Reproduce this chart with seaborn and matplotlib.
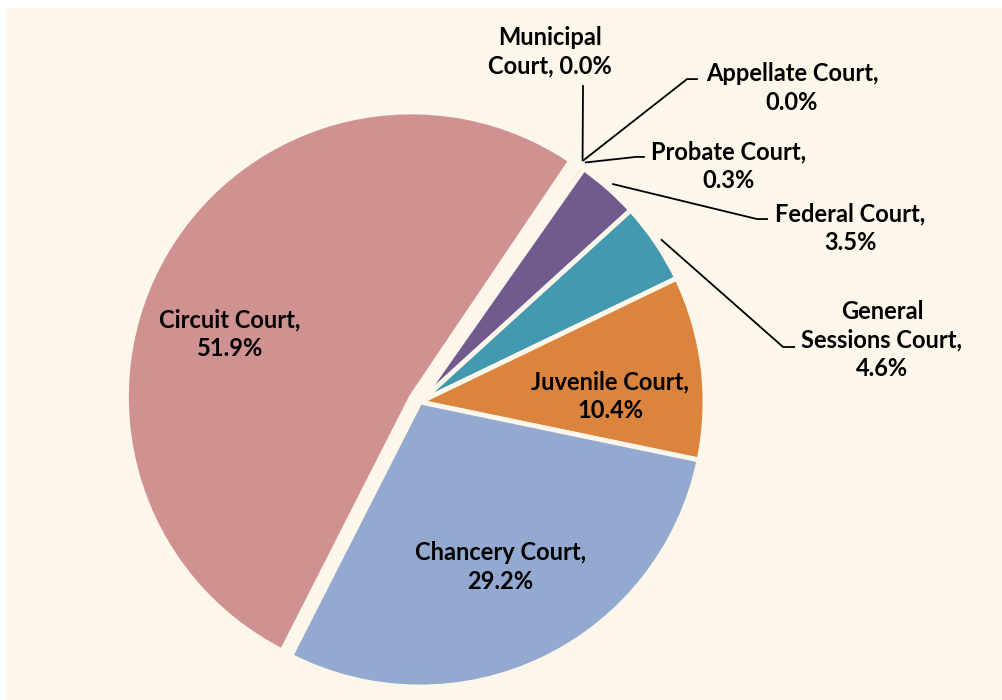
import matplotlib
matplotlib.use('Agg')
import matplotlib.pyplot as plt
from matplotlib.patches import Rectangle
import numpy as np
import seaborn as sns

sns.set_style('white')
plt.rcParams['font.family'] = ['Lato', 'DejaVu Sans']

# data, clockwise from the top
courts = ['Municipal Court', 'Appellate Court', 'Probate Court', 'Federal Court',
          'General Sessions Court', 'Juvenile Court', 'Chancery Court', 'Circuit Court']
shares = [0.0, 0.0, 0.3, 3.5, 4.6, 10.4, 29.2, 51.9]
colors = ['#4f81bd', '#c0504d', '#9bbb59', '#725a8f', '#4299b0', '#db843d', '#94a9cf', '#d09291']
label_text = ['Municipal\nCourt, 0.0%', 'Appellate Court,\n0.0%', 'Probate Court,\n0.3%',
              'Federal Court,\n3.5%', 'General\nSessions Court,\n4.6%',
              'Juvenile Court,\n10.4%', 'Chancery Court,\n29.2%', 'Circuit Court,\n51.9%']

cream = '#fdf6ea'

fig = plt.figure(figsize=(10.02, 7), dpi=100)
fig.patch.set_facecolor('white')
fig.patches.append(Rectangle((6 / 1002, 0), 1, 692 / 700, transform=fig.transFigure,
                             facecolor=cream, edgecolor='none', zorder=-10))
ax = fig.add_axes([0, 0, 1, 1])
ax.set_facecolor('none')

explode = [0, 0, 0, 0, 0, 0, 0, 0.035]
wedges, _ = ax.pie(shares, colors=colors, startangle=56, counterclock=False,
                   explode=explode, wedgeprops=dict(edgecolor=cream, linewidth=3.5))

# layout: where each label sits, and elbow of its leader line (None = label inside)
text_pos = [(0.456, 1.228), (1.305, 1.102), (1.081, 0.828), (1.509, 0.611),
            (1.621, 0.218), (0.667, 0.021), (0.281, -0.579), (-0.667, 0.239)]
elbows = [[(0.572, 1.112)],
          [(0.937, 1.133), (0.975, 1.133)],
          [(0.758, 0.860), (0.789, 0.860)],
          [(1.182, 0.642), (1.221, 0.642)],
          [(1.274, 0.193), (1.316, 0.193)],
          None, None, None]

for w, txt, pos, elb in zip(wedges, label_text, text_pos, elbows):
    ax.text(pos[0], pos[1], txt, ha='center', va='center', fontsize=17,
            fontweight='bold', color='black', linespacing=1.3)
    if elb is not None:
        mid = np.deg2rad((w.theta1 + w.theta2) / 2)
        cx, cy = w.center
        start = (cx + 1.02 * np.cos(mid), cy + 1.02 * np.sin(mid))
        pts = [start] + elb
        ax.plot([p[0] for p in pts], [p[1] for p in pts], color='black', lw=1.3,
                solid_capstyle='butt')

ax.set_xlim(-420 / 285, 582 / 285)
ax.set_ylim(-298 / 285, 402 / 285)
ax.axis('off')

fig.savefig('out.png', dpi=100, facecolor='white')
